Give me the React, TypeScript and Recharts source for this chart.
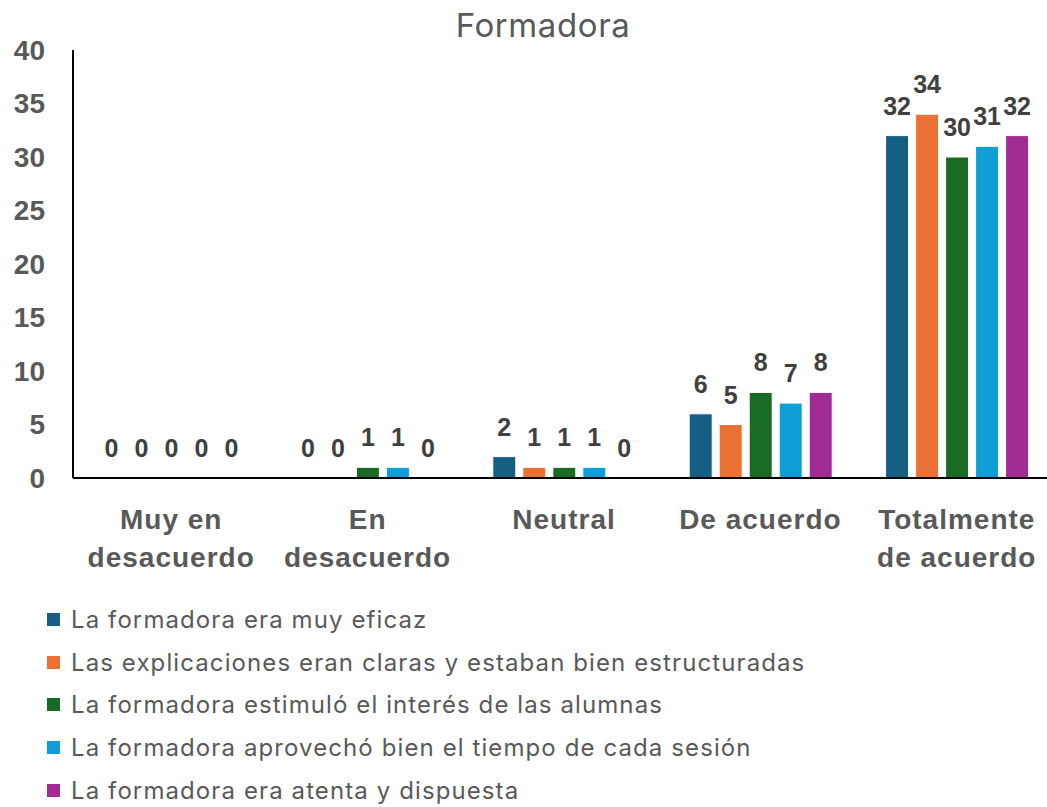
import { Bar, BarChart, LabelList, Rectangle, XAxis, YAxis } from "recharts";

const categories = [
  "Muy en\ndesacuerdo",
  "En\ndesacuerdo",
  "Neutral",
  "De acuerdo",
  "Totalmente\nde acuerdo",
];
const eficaz = [0, 0, 2, 6, 32];
const claras = [0, 0, 1, 5, 34];
const interes = [0, 1, 1, 8, 30];
const tiempo = [0, 1, 1, 7, 31];
const atenta = [0, 0, 0, 8, 32];
const yTicks = [0, 5, 10, 15, 20, 25, 30, 35, 40];

const seriesNames = [
  "La formadora era muy eficaz",
  "Las explicaciones eran claras y estaban bien estructuradas",
  "La formadora estimuló el interés de las alumnas",
  "La formadora aprovechó bien el tiempo de cada sesión",
  "La formadora era atenta y dispuesta",
];
const seriesColors = ["#156082", "#E97132", "#196B24", "#0F9ED5", "#A02B93"];
const seriesValues = [eficaz, claras, interes, tiempo, atenta];

const data = categories.map((c, i) => {
  const row: any = { cat: c };
  seriesValues.forEach((vals, s) => (row["s" + s] = vals[i]));
  return row;
});

const boldFont = "'Liberation Sans', Arial, sans-serif";
const lightFont = "Inter, 'Open Sans', sans-serif";

const CatTick = ({ x, y, payload }: any) => {
  const lines = String(payload.value).split("\n");
  return (
    <text
      x={x}
      y={y + 43}
      textAnchor="middle"
      fill="#595959"
      fontFamily={boldFont}
      fontWeight="bold"
      fontSize={28}
      letterSpacing={1}
    >
      {lines.map((l, i) => (
        <tspan key={i} x={x} dy={i === 0 ? 0 : 38}>
          {l}
        </tspan>
      ))}
    </text>
  );
};

// zero-valued bars get a tiny height so their labels still show; no stroke on them
const BarShape = (props: any) => (
  <Rectangle {...props} stroke={props.height < 1 ? "none" : "#fff"} />
);

export default function App() {
  return (
    <div
      style={{
        position: "absolute",
        left: 0,
        top: 0,
        width: 1047,
        height: 807,
        overflow: "hidden",
        background: "#fff",
      }}
    >
      <div
        style={{
          position: "absolute",
          left: 543,
          top: 5,
          transform: "translateX(-50%)",
          fontFamily: lightFont,
          fontSize: 33,
          letterSpacing: 0.6,
          color: "#595959",
          whiteSpace: "nowrap",
        }}
      >
        Formadora
      </div>
      <BarChart
        width={1056}
        height={600}
        data={data}
        margin={{ top: 50, right: 1, left: 0, bottom: 0 }}
        barCategoryGap={27}
        barGap={7}
      >
        <XAxis
          dataKey="cat"
          height={122}
          tickLine={false}
          axisLine={{ stroke: "#000", strokeWidth: 2 }}
          tick={<CatTick />}
          interval={0}
        />
        <YAxis
          width={73}
          domain={[0, 40]}
          ticks={yTicks}
          interval={0}
          tickLine={false}
          tickSize={0}
          tickMargin={28}
          axisLine={{ stroke: "#000", strokeWidth: 2 }}
          tick={{
            fill: "#595959",
            fontSize: 28,
            fontWeight: "bold",
            fontFamily: boldFont,
          }}
        />
        {seriesNames.map((name, s) => (
          <Bar
            key={name}
            dataKey={"s" + s}
            name={name}
            fill={seriesColors[s]}
            strokeWidth={1}
            minPointSize={0.01}
            shape={<BarShape />}
            isAnimationActive={false}
          >
            <LabelList
              dataKey={"s" + s}
              position="top"
              offset={21}
              fill="#404040"
              fontSize={25}
              fontWeight="bold"
              fontFamily={boldFont}
            />
          </Bar>
        ))}
      </BarChart>
      <div style={{ position: "absolute", left: 47, top: 598 }}>
        {seriesNames.map((name, s) => (
          <div
            key={name}
            style={{
              display: "flex",
              alignItems: "center",
              height: 42.75,
              fontFamily: lightFont,
              fontSize: 24,
              letterSpacing: 1.1,
              color: "#595959",
              whiteSpace: "nowrap",
            }}
          >
            <span
              style={{
                width: 13,
                height: 13,
                background: seriesColors[s],
                marginRight: 11,
                display: "inline-block",
              }}
            />
            {name}
          </div>
        ))}
      </div>
    </div>
  );
}
